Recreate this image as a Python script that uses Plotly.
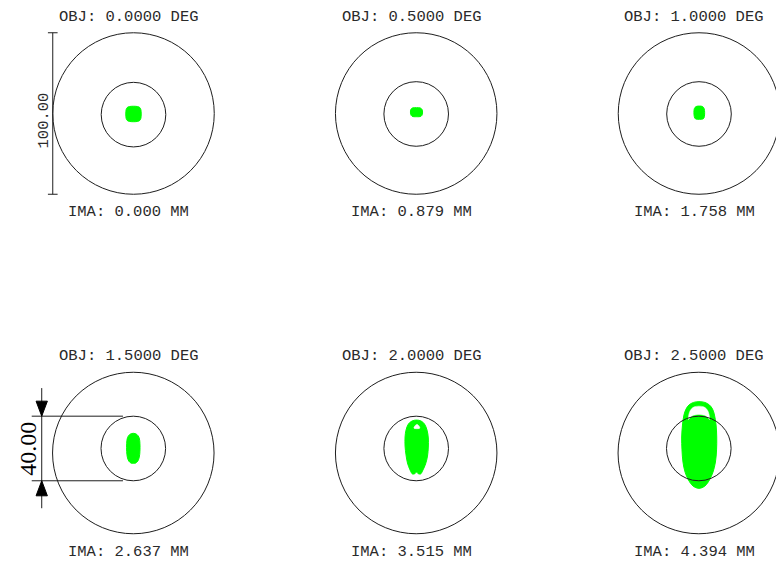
import plotly.graph_objects as go

# Spot diagram: six field points, spot footprints in micrometres.
W, H = 776, 563
PX_PER_UM = 1.615  # drawing scale (pixels per micrometre)

FIELD_DEG = [0.0, 0.5, 1.0, 1.5, 2.0, 2.5]
IMAGE_HEIGHT_MM = [0.000, 0.879, 1.758, 2.637, 3.515, 4.394]

PLOT_SCALE_UM = 100.0      # outer reference circle / scale bar length
AIRY_DIAMETER_UM = 40.0    # Airy disc diameter
AIRY_CENTER_Y_UM = [-0.7, -0.3, -0.3, 2.8, 2.8, 2.8]

# Spot footprint outlines (x, y) in micrometres, one list per field
SPOT_F1 = [(-4.6, -2.8), (-4.6, 2.2), (-4.0, 3.6), (-2.5, 4.3), (2.5, 4.3), (4.0, 3.6),
           (4.6, 2.2), (4.6, -2.8), (4.0, -4.2), (2.5, -4.9), (-2.5, -4.9), (-4.0, -4.2)]
SPOT_F2 = [(0.2, 3.6), (2.6, 3.4), (3.7, 2.3), (3.8, -0.5), (3.0, -1.7), (0.2, -2.0),
           (-2.6, -1.7), (-3.4, -0.5), (-3.4, 2.3), (-2.4, 3.4)]
SPOT_F3 = [(0.2, 4.6), (2.2, 4.3), (3.2, 3.0), (3.3, -2.0), (2.6, -3.3), (0.2, -3.6),
           (-2.2, -3.3), (-2.9, -2.0), (-2.9, 3.0), (-1.8, 4.3)]
SPOT_F4 = [(0.0, 12.2), (2.2, 11.5), (3.6, 9.5), (4.1, 6.0), (4.1, 1.0), (3.7, -2.5),
           (2.8, -5.0), (1.3, -6.3), (0.0, -6.4), (-1.3, -6.3), (-2.8, -5.0), (-3.7, -2.5),
           (-4.1, 1.0), (-4.1, 6.0), (-3.6, 9.5), (-2.2, 11.5)]
SPOT_F5 = [(0.2, 20.4), (3.0, 19.8), (5.1, 18.0), (6.7, 14.2), (7.5, 9.3), (7.5, 3.7),
           (7.0, -1.9), (5.8, -6.8), (4.2, -10.5), (2.7, -13.0), (1.1, -12.7), (0.2, -11.8),
           (-0.7, -12.7), (-2.3, -13.0), (-3.8, -10.5), (-5.4, -6.2), (-6.3, -1.2),
           (-6.9, 4.3), (-6.9, 9.9), (-6.3, 14.2), (-4.8, 18.0), (-2.6, 19.8)]
SPOT_F5_GAP = [(-1.4, 15.4), (-0.6, 17.0), (0.5, 17.7), (1.5, 17.0), (2.2, 15.4)]
SPOT_F6 = [(0.1, 31.8), (3.8, 31.3), (6.6, 29.7), (8.5, 27.2), (9.7, 23.5), (10.7, 17.3),
           (11.1, 9.9), (11.0, 1.9), (10.3, -5.6), (8.8, -11.8), (6.6, -16.7), (3.8, -20.4),
           (0.1, -21.9), (-3.6, -20.4), (-6.4, -16.7), (-8.5, -11.8), (-9.8, -5.6),
           (-10.4, 1.9), (-10.6, 9.9), (-10.1, 17.3), (-9.2, 23.5), (-7.9, 27.2),
           (-6.1, 29.7), (-3.3, 31.3)]
SPOT_F6_GAP = [(0.1, 29.0), (2.9, 28.6), (4.7, 27.4), (5.9, 25.4), (6.5, 23.0), (6.6, 20.8),
               (5.4, 22.0), (3.6, 23.3), (0.1, 23.9), (-3.4, 23.3), (-5.2, 22.0),
               (-6.4, 20.8), (-6.3, 23.0), (-5.7, 25.4), (-4.5, 27.4), (-2.7, 28.6)]

SPOTS = [SPOT_F1, SPOT_F2, SPOT_F3, SPOT_F4, SPOT_F5, SPOT_F6]
GAPS = {4: SPOT_F5_GAP, 5: SPOT_F6_GAP}

# Panel centres on the page (pixels)
PANEL_CENTERS = [(133.5, 113.5), (416.2, 113.5), (699.0, 113.5),
                 (133.3, 453.0), (416.2, 453.0), (698.8, 453.0)]

SPOT_GREEN = "#00ff00"
INK = "#1e1e1e"
LABEL_FONT = dict(family="Liberation Mono", size=15.5, color="#2a2a2a")

fig = go.Figure()
layout_axes = {}
shapes = []
annotations = []


def closed(points):
    xs = [p[0] for p in points] + [points[0][0]]
    ys = [p[1] for p in points] + [points[0][1]]
    return xs, ys


for i, (cx, cy) in enumerate(PANEL_CENTERS):
    n = "" if i == 0 else str(i + 1)
    xr, yr = "x" + n, "y" + n
    x0p, x1p = max(0.0, cx - 135), min(W, cx + 135)
    y0p, y1p = max(0.0, cy - 110), min(H, cy + 110)
    layout_axes["xaxis" + n] = dict(
        domain=[x0p / W, x1p / W],
        range=[(x0p - cx) / PX_PER_UM, (x1p - cx) / PX_PER_UM],
        visible=False, fixedrange=True, anchor=yr)
    layout_axes["yaxis" + n] = dict(
        domain=[1 - y1p / H, 1 - y0p / H],
        range=[(cy - y1p) / PX_PER_UM, (cy - y0p) / PX_PER_UM],
        visible=False, fixedrange=True, anchor=xr)

    # spot footprint
    sx, sy = closed(SPOTS[i])
    fig.add_trace(go.Scatter(
        x=sx, y=sy, xaxis=xr, yaxis=yr, mode="lines", fill="toself",
        fillcolor=SPOT_GREEN, line=dict(color=SPOT_GREEN, width=1, shape="spline"),
        hoverinfo="skip", showlegend=False))
    if i in GAPS:
        gx, gy = closed(GAPS[i])
        fig.add_trace(go.Scatter(
            x=gx, y=gy, xaxis=xr, yaxis=yr, mode="lines", fill="toself",
            fillcolor="white", line=dict(color="white", width=0.5, shape="spline"),
            hoverinfo="skip", showlegend=False))

    # outer scale circle and Airy disc
    r_out = PLOT_SCALE_UM / 2
    r_airy = AIRY_DIAMETER_UM / 2
    ay = AIRY_CENTER_Y_UM[i]
    shapes.append(dict(type="circle", xref=xr, yref=yr, x0=-r_out, x1=r_out,
                       y0=-r_out, y1=r_out, line=dict(color=INK, width=1)))
    shapes.append(dict(type="circle", xref=xr, yref=yr, x0=-r_airy, x1=r_airy,
                       y0=ay - r_airy, y1=ay + r_airy, line=dict(color=INK, width=1)))

    annotations.append(dict(xref=xr, yref=yr, x=-2.8, y=60.0, showarrow=False,
                            text=f"OBJ: {FIELD_DEG[i]:.4f} DEG", font=LABEL_FONT,
                            xanchor="center", yanchor="middle"))
    annotations.append(dict(xref=xr, yref=yr, x=-2.8, y=-61.0, showarrow=False,
                            text=f"IMA: {IMAGE_HEIGHT_MM[i]:.3f} MM", font=LABEL_FONT,
                            xanchor="center", yanchor="middle"))

# Scale bar (plot scale) on the first panel
r_out = PLOT_SCALE_UM / 2
bar_x = -r_out
shapes.append(dict(type="line", xref="x", yref="y", x0=bar_x, x1=bar_x,
                   y0=-r_out, y1=r_out, line=dict(color=INK, width=1)))
for yy in (-r_out, r_out):
    shapes.append(dict(type="line", xref="x", yref="y", x0=bar_x - 3, x1=bar_x + 3,
                       y0=yy, y1=yy, line=dict(color=INK, width=1)))
annotations.append(dict(xref="x", yref="y", x=-55.7, y=-4.6, showarrow=False,
                        text=f"{PLOT_SCALE_UM:.2f}", textangle=-90, font=LABEL_FONT,
                        xanchor="center", yanchor="middle"))

# Airy diameter dimension on the fourth panel
ay = AIRY_CENTER_Y_UM[3]
top, bot = ay + AIRY_DIAMETER_UM / 2, ay - AIRY_DIAMETER_UM / 2
dim_x = -56.7
arrow_len, arrow_half = 9.3, 3.5
for yy in (top, bot):
    shapes.append(dict(type="line", xref="x4", yref="y4", x0=-62.9, x1=-6.4,
                       y0=yy, y1=yy, line=dict(color=INK, width=1)))
shapes.append(dict(type="line", xref="x4", yref="y4", x0=dim_x, x1=dim_x,
                   y0=bot - 17.0, y1=top + 17.4, line=dict(color=INK, width=1)))
shapes.append(dict(type="path", xref="x4", yref="y4",
                   path=f"M {dim_x} {top} L {dim_x - arrow_half} {top + arrow_len} "
                        f"L {dim_x + arrow_half} {top + arrow_len} Z",
                   fillcolor="black", line=dict(color="black", width=1)))
shapes.append(dict(type="path", xref="x4", yref="y4",
                   path=f"M {dim_x} {bot} L {dim_x - arrow_half} {bot - arrow_len} "
                        f"L {dim_x + arrow_half} {bot - arrow_len} Z",
                   fillcolor="black", line=dict(color="black", width=1)))
annotations.append(dict(xref="x4", yref="y4", x=-65.1, y=ay, showarrow=False,
                        text=f"{AIRY_DIAMETER_UM:.2f}", textangle=-90,
                        font=dict(family="Liberation Serif", size=24, color="black"),
                        xanchor="center", yanchor="middle"))

fig.update_layout(
    width=W, height=H, margin=dict(l=0, r=0, t=0, b=0),
    paper_bgcolor="white", plot_bgcolor="rgba(0,0,0,0)",
    shapes=shapes, annotations=annotations, showlegend=False,
    **layout_axes)

fig.write_html("out.html", config={"displayModeBar": False})
